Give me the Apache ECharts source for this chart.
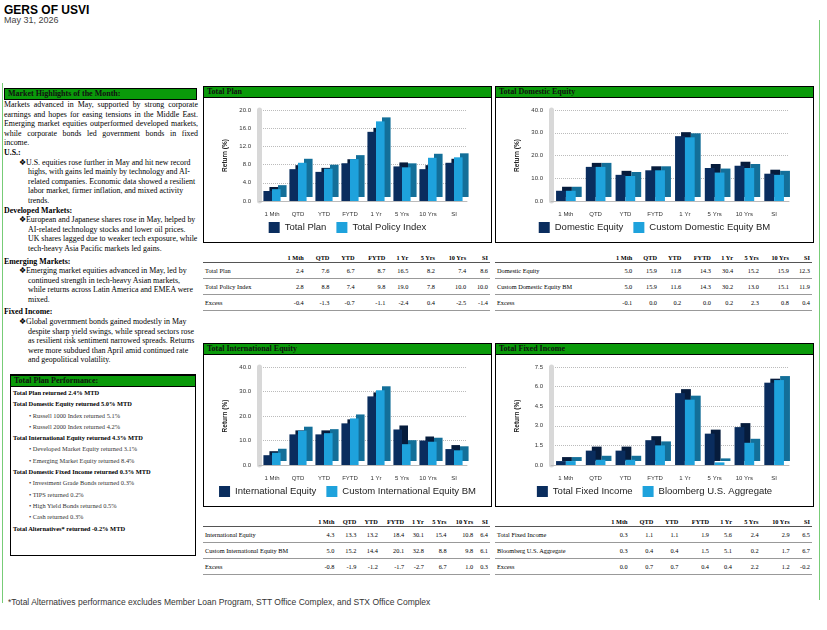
<!DOCTYPE html>
<html>
<head>
<meta charset="utf-8">
<title>GERS OF USVI</title>
<script src="https://cdn.jsdelivr.net/npm/echarts@6/dist/echarts.min.js"></script>
<style>
body{margin:0;width:827px;height:630px;background:#fff;font-family:"Liberation Serif",serif;position:relative;overflow:hidden}
.abs{position:absolute}
.hdr{background:#0a9a0a;border:1px solid #000;font-weight:bold;font-size:8px;color:#111;height:10px;line-height:10px;padding-left:3px}
.box{border:1px solid #000;background:#fff}
.chart{position:absolute}
table{border-collapse:collapse;font-size:6.3px;position:absolute}
td,th{padding:0 2px;text-align:right;height:15px;border-bottom:1px solid #999}
th{border-bottom:1px solid #555;height:9px;font-size:6.3px}
td:first-child,th:first-child{text-align:left}
.txt{font-size:7.9px;line-height:9.6px}
.txt b{font-size:7.9px}
ul{margin:0;padding-left:24px;list-style:none}
ul li:before{content:"\2756 ";margin-left:-9px}
.perf{font-size:6.4px;line-height:11.3px}
.perf .s{padding-left:16px;color:#333}
</style>
</head>
<body>
<div class="abs" style="left:4px;top:3px;font-family:Arial,sans-serif;font-weight:bold;font-size:12px">GERS OF USVI</div>
<div class="abs" style="left:4px;top:15px;font-family:Arial,sans-serif;font-size:9px;color:#444">May 31, 2026</div>
<div class="abs" style="left:2px;top:83px;width:1px;height:520px;background:#7c7"></div>
<div class="abs" style="left:819px;top:20px;width:1px;height:580px;background:#7c7"></div>

<div class="abs hdr" style="left:4px;top:88px;width:188px">Market Highlights of the Month:</div>
<div class="abs txt" style="left:4px;top:100px;width:194px;text-align:justify">
Markets advanced in May, supported by strong corporate earnings and hopes for easing tensions in the Middle East. Emerging market equities outperformed developed markets, while corporate bonds led government bonds in fixed income.<br>
<b>U.S.:</b><ul style="text-align:left"><li>U.S. equities rose further in May and hit new record highs, with gains led mainly by technology and AI-related companies. Economic data showed a resilient labor market, firmer inflation, and mixed activity trends.</li></ul>
<b>Developed Markets:</b><ul style="text-align:left"><li>European and Japanese shares rose in May, helped by AI-related technology stocks and lower oil prices. UK shares lagged due to weaker tech exposure, while tech-heavy Asia Pacific markets led gains.</li></ul>
<div style="height:3px"></div><b>Emerging Markets:</b><ul style="text-align:left"><li>Emerging market equities advanced in May, led by continued strength in tech-heavy Asian markets, while returns across Latin America and EMEA were mixed.</li></ul>
<div style="height:3px"></div><b>Fixed Income:</b><ul style="text-align:left"><li>Global government bonds gained modestly in May despite sharp yield swings, while spread sectors rose as resilient risk sentiment narrowed spreads. Returns were more subdued than April amid continued rate and geopolitical volatility.</li></ul>
</div>

<div class="abs box" style="left:10px;top:374px;width:184px;height:180px"></div>
<div class="abs hdr" style="left:10px;top:375px;width:181px">Total Plan Performance:</div>
<div class="abs perf" style="left:13px;top:387px;width:180px">
<b>Total Plan returned 2.4% MTD</b><br>
<b>Total Domestic Equity returned 5.0% MTD</b><br>
<div class="s">• Russell 1000 Index returned 5.1%</div>
<div class="s">• Russell 2000 Index returned 4.2%</div>
<b>Total International Equity returned 4.3% MTD</b><br>
<div class="s">• Developed Market Equity returned 3.1%</div>
<div class="s">• Emerging Market Equity returned 8.4%</div>
<b>Total Domestic Fixed Income returned 0.3% MTD</b><br>
<div class="s">• Investment Grade Bonds returned 0.3%</div>
<div class="s">• TIPS returned 0.2%</div>
<div class="s">• High Yield Bonds returned 0.5%</div>
<div class="s">• Cash returned 0.3%</div>
<b>Total Alternatives* returned -0.2% MTD</b>
</div>

<div id="panels"></div>
<div class="abs" style="left:8px;top:597px;font-family:Arial,sans-serif;font-size:8.5px;color:#333">*Total Alternatives performance excludes Member Loan Program, STT Office Complex, and STX Office Complex</div>

<script type="text/javascript">
var cats = ['1 Mth','QTD','YTD','FYTD','1 Yr','5 Yrs','10 Yrs','SI'];
// 四个图表的数据
var panels = [
	{title:'Total Plan', x:203, y:86, w:287, h:155, max:20, interval:4,
	 names:['Total Plan','Total Policy Index'],
	 a:[2.2,7.0,6.4,8.3,15.2,7.6,7.0,8.4], b:[2.6,8.4,7.1,9.2,17.5,7.4,9.5,9.6],
	 rows:[['Total Plan',2.4,7.6,6.7,8.7,16.5,8.2,7.4,8.6],['Total Policy Index',2.8,8.8,7.4,9.8,19.0,7.8,10.0,10.0],['Excess',-0.4,-1.3,-0.7,-1.1,-2.4,0.4,-2.5,-1.4]]},
	{title:'Total Domestic Equity', x:495, y:86, w:317, h:155, max:40, interval:10,
	 names:['Domestic Equity','Custom Domestic Equity BM'],
	 a:[4.5,15.0,11.5,13.5,28.5,14.5,15.5,12.0], b:[4.5,15.0,11.0,13.5,28.0,12.5,14.5,11.5],
	 rows:[['Domestic Equity',5.0,15.9,11.8,14.3,30.4,15.2,15.9,12.3],['Custom Domestic Equity BM',5.0,15.9,11.6,14.3,30.2,13.0,15.1,11.9],['Excess',-0.1,-0.0,0.2,-0.0,0.2,2.3,0.8,0.4]]},
	{title:'Total International Equity', x:203, y:343, w:287, h:162, max:40, interval:10,
	 names:['International Equity','Custom International Equity BM'],
	 a:[4.0,12.5,12.5,17.0,28.0,14.5,10.0,6.5], b:[5.0,14.0,13.0,19.0,30.5,8.5,9.5,6.0],
	 rows:[['International Equity',4.3,13.3,13.2,18.4,30.1,15.4,10.8,6.4],['Custom International Equity BM',5.0,15.2,14.4,20.1,32.8,8.8,9.8,6.1],['Excess',-0.8,-1.9,-1.2,-1.7,-2.7,6.7,1.0,0.3]]},
	{title:'Total Fixed Income', x:495, y:343, w:317, h:162, max:7.5, interval:1.5,
	 names:['Total Fixed Income','Bloomberg U.S. Aggregate'],
	 a:[0.3,1.1,1.1,1.9,5.5,2.4,2.9,6.3], b:[0.3,0.4,0.4,1.5,5.0,0.2,1.7,6.5],
	 rows:[['Total Fixed Income',0.3,1.1,1.1,1.9,5.6,2.4,2.9,6.5],['Bloomberg U.S. Aggregate',0.3,0.4,0.4,1.5,5.1,0.2,1.7,6.7],['Excess',0.0,0.7,0.7,0.4,0.4,2.2,1.2,-0.2]]}
];

var host = document.getElementById('panels');
panels.forEach(function(p, i){
	var box = document.createElement('div');
	box.className = 'abs box';
	box.style.cssText = 'left:'+p.x+'px;top:'+p.y+'px;width:'+p.w+'px;height:'+p.h+'px';
	box.innerHTML = '<div class="hdr" style="margin:-1px -1px 0 -1px">'+p.title+'</div>';
	var c = document.createElement('div');
	c.className = 'chart';
	c.style.cssText = 'left:0;top:11px;width:'+p.w+'px;height:'+(p.h-12)+'px';
	box.appendChild(c);
	host.appendChild(box);

	// 表格
	var t = document.createElement('table');
	var ty = p.y + p.h + 12;
	t.style.cssText = 'left:'+p.x+'px;top:'+ty+'px;width:'+(p.w)+'px';
	var html = '<tr><th></th>';
	cats.forEach(function(k){ html += '<th>'+k+'</th>'; });
	html += '</tr>';
	p.rows.forEach(function(r){
		html += '<tr><td>'+r[0]+'</td>';
		for (var j = 1; j < r.length; j++) html += '<td>'+r[j].toFixed(1)+'</td>';
		html += '</tr>';
	});
	t.innerHTML = html;
	document.body.appendChild(t);

	var chart = echarts.init(c);
	var side = function(col, sh){ return {color:col, shadowColor:sh, shadowOffsetX:6, shadowOffsetY:-4, shadowBlur:0}; };
	chart.setOption({
		animation:false,
		grid:{left:55, right:24, top:12, bottom:40},
		legend:{bottom:3, itemWidth:11, itemHeight:11, itemGap:10, icon:'rect',
			textStyle:{fontFamily:'Arial', fontSize:9.5, color:'#222'}, data:p.names},
		xAxis:{type:'category', data:cats,
			axisLine:{lineStyle:{color:'#bbb'}}, axisTick:{show:false},
			axisLabel:{fontFamily:'Arial', fontSize:6, color:'#333', margin:10}},
		yAxis:{type:'value', min:0, max:p.max, interval:p.interval,
			name:'Return (%)', nameLocation:'middle', nameGap:30,
			nameTextStyle:{fontFamily:'Arial', fontSize:6.5, fontWeight:'bold', color:'#222'},
			axisLabel:{fontFamily:'Arial', fontSize:6, color:'#333', formatter:function(v){return v.toFixed(1);}},
			axisLine:{show:true, lineStyle:{color:'#d8d8d8', width:5}},
			splitLine:{lineStyle:{type:'dotted', color:'#bbb'}}},
		series:[
			{name:p.names[0], type:'bar', data:p.a, barWidth:'33%', barGap:'0%', itemStyle:side('#0a2d5e', '#061c3c')},
			{name:p.names[1], type:'bar', data:p.b, barWidth:'33%', itemStyle:side('#1ea2dc', '#136f99')}
		]
	});
});
</script>
</body>
</html>
